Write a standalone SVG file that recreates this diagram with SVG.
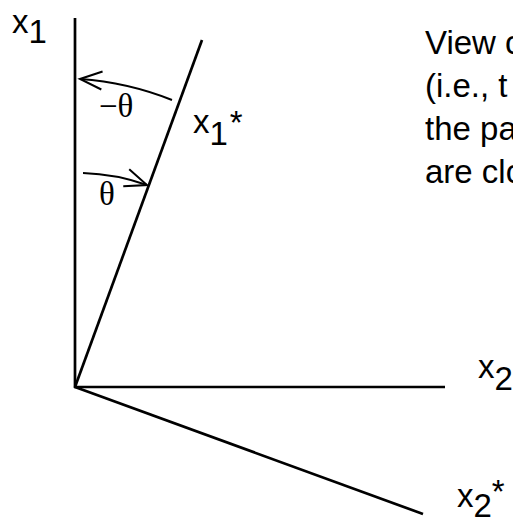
<svg xmlns="http://www.w3.org/2000/svg" width="513" height="519" viewBox="0 0 513 519">
<style>
.axis{stroke:#000;stroke-width:2.7;fill:none;stroke-linecap:butt}
.arc{stroke:#000;stroke-width:2;fill:none}
.lbl{font-family:"Liberation Sans",Arial,sans-serif;font-size:33px;fill:#000}
.gk{font-family:"Liberation Serif","Times New Roman",serif;font-size:33px;fill:#000}
</style>
<defs>
<marker id="open" markerUnits="userSpaceOnUse" markerWidth="30" markerHeight="30" refX="0" refY="0" viewBox="-25 -15 30 30" orient="auto" overflow="visible">
<path d="M -22 -9 L 0 0 L -22 9" fill="none" stroke="#000" stroke-width="2"/>
</marker>
</defs>
<rect width="513" height="519" fill="#fff"/>
<g id="connectors">
<line id="axis-x1" class="axis" x1="75" y1="18" x2="75" y2="388"/>
<line id="axis-x2" class="axis" x1="74" y1="387" x2="445" y2="387"/>
<line id="axis-x1star" class="axis" x1="75" y1="387" x2="202" y2="40"/>
<line id="axis-x2star" class="axis" x1="75" y1="387" x2="423" y2="514"/>
<path id="arc-neg-theta" class="arc" d="M 172 100 A 305 305 0 0 0 80 79" marker-end="url(#open)"/>
<path id="arc-theta" class="arc" d="M 83 173 A 214 214 0 0 1 147 185" marker-end="url(#open)"/>
</g>
<g id="label-x1"><text class="lbl" x="12" y="33">x<tspan dy="10">1</tspan></text></g>
<g id="label-x1star"><text class="lbl" x="193" y="133">x<tspan dy="12">1</tspan><tspan dx="2" dy="-11">*</tspan></text></g>
<g id="label-x2"><text class="lbl" x="478" y="378">x<tspan dy="12">2</tspan></text></g>
<g id="label-x2star"><text class="lbl" x="457" y="507">x<tspan dy="10">2</tspan><tspan dy="-14">*</tspan></text></g>
<g id="label-neg-theta"><text class="gk" x="99" y="117">−θ</text></g>
<g id="label-theta"><text class="gk" x="99" y="205">θ</text></g>
<g id="note"><text class="lbl" x="425"><tspan x="425" y="54">View o</tspan><tspan x="425" y="97">(i.e., t</tspan><tspan x="425" y="140">the pa</tspan><tspan x="425" y="183">are clo</tspan></text></g>
</svg>
